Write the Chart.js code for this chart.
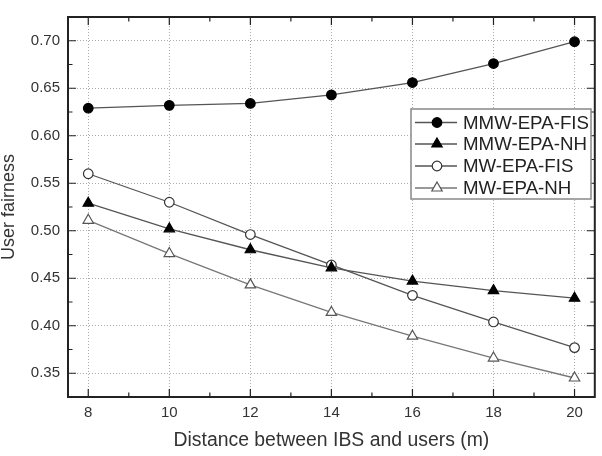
<!DOCTYPE html>
<html><head><meta charset="utf-8">
<script src="https://cdn.jsdelivr.net/npm/chart.js@4.4.1/dist/chart.umd.min.js"></script>
<style>html,body{margin:0;padding:0;background:#fff}</style>
</head><body>
<canvas id="c" width="602" height="456" style="width:602px;height:456px;display:block"></canvas>
<script>
// ---- data ----
const distances = [8, 10, 12, 14, 16, 18, 20];
const seriesNames = ["MMW-EPA-FIS", "MMW-EPA-NH", "MW-EPA-FIS", "MW-EPA-NH"];
const mmwEpaFis = [0.629, 0.632, 0.634, 0.643, 0.656, 0.676, 0.699];
const mmwEpaNh  = [0.529, 0.502, 0.480, 0.461, 0.447, 0.437, 0.429];
const mwEpaFis  = [0.560, 0.530, 0.496, 0.464, 0.432, 0.404, 0.377];
const mwEpaNh   = [0.511, 0.476, 0.443, 0.414, 0.389, 0.366, 0.345];
const xTicks = [8, 10, 12, 14, 16, 18, 20];
const xMinorTicks = [9, 11, 13, 15, 17, 19];
const yTicks = [0.35, 0.40, 0.45, 0.50, 0.55, 0.60, 0.65, 0.70];
const yMinorTicks = [0.375, 0.425, 0.475, 0.525, 0.575, 0.625, 0.675];
const xTitle = "Distance between IBS and users (m)";
const yTitle = "User fairness";

const FONT = "'Liberation Sans', Arial, Helvetica, sans-serif";
const toXY = (ys) => ys.map((v, i) => ({x: distances[i], y: v}));

const styles = [
  {line: '#555', fill: '#000', border: '#000', shape: 'circle', r: 4.8},
  {line: '#555', fill: '#000', border: '#000', shape: 'triangle', r: 6},
  {line: '#555', fill: '#fff', border: '#333', shape: 'circle', r: 4.8},
  {line: '#777', fill: '#fff', border: '#555', shape: 'triangle', r: 6}
];
const seriesData = [mmwEpaFis, mmwEpaNh, mwEpaFis, mwEpaNh];

const datasets = seriesData.map((d, i) => ({
  label: seriesNames[i],
  data: toXY(d),
  borderColor: styles[i].line,
  borderWidth: 1.3,
  pointStyle: styles[i].shape,
  pointRadius: styles[i].r,
  pointBackgroundColor: styles[i].fill,
  pointBorderColor: styles[i].border,
  pointBorderWidth: 1.2,
  tension: 0,
  fill: false
}));

function drawMarker(ctx, shape, x, y, r) {
  ctx.beginPath();
  if (shape === 'circle') {
    ctx.arc(x, y, r, 0, Math.PI * 2);
  } else {
    let rad = 0;
    const step = Math.PI * 2 / 3;
    ctx.moveTo(x + Math.sin(rad) * r, y - Math.cos(rad) * r);
    rad += step; ctx.lineTo(x + Math.sin(rad) * r, y - Math.cos(rad) * r);
    rad += step; ctx.lineTo(x + Math.sin(rad) * r, y - Math.cos(rad) * r);
    ctx.closePath();
  }
}

const framePlugin = {
  id: 'frame',
  afterDatasetsDraw(chart) {
    const {ctx, chartArea: a, scales} = chart;
    ctx.save();
    ctx.strokeStyle = '#222';
    ctx.lineWidth = 1.2;
    ctx.beginPath();
    const xs = scales.x, ys = scales.y;
    const tick = (px, len, vertical) => {
      if (vertical) {
        ctx.moveTo(px, a.bottom); ctx.lineTo(px, a.bottom - len);
        ctx.moveTo(px, a.top); ctx.lineTo(px, a.top + len);
      } else {
        ctx.moveTo(a.left, px); ctx.lineTo(a.left + len, px);
        ctx.moveTo(a.right, px); ctx.lineTo(a.right - len, px);
      }
    };
    xTicks.forEach(v => tick(xs.getPixelForValue(v), 8, true));
    xMinorTicks.forEach(v => tick(xs.getPixelForValue(v), 4.5, true));
    yTicks.forEach(v => tick(ys.getPixelForValue(v), 8, false));
    yMinorTicks.forEach(v => tick(ys.getPixelForValue(v), 4.5, false));
    ctx.stroke();
    ctx.lineWidth = 2;
    ctx.strokeRect(a.left, a.top, a.right - a.left, a.bottom - a.top);

    // legend box
    const bx = 411, by = 109, bw = 180, bh = 90;
    ctx.fillStyle = '#fff';
    ctx.fillRect(bx, by, bw, bh);
    ctx.strokeStyle = '#888';
    ctx.lineWidth = 1.5;
    ctx.strokeRect(bx, by, bw, bh);
    const rows = [122.5, 144, 166, 188];
    ctx.font = '18.7px ' + FONT;
    ctx.textBaseline = 'middle';
    ctx.textAlign = 'left';
    seriesNames.forEach((name, i) => {
      const y = rows[i], s = styles[i];
      ctx.strokeStyle = s.line;
      ctx.lineWidth = 1.3;
      ctx.beginPath(); ctx.moveTo(415, y); ctx.lineTo(457, y); ctx.stroke();
      drawMarker(ctx, s.shape, 437, y, s.r);
      ctx.fillStyle = s.fill; ctx.fill();
      ctx.strokeStyle = s.border; ctx.lineWidth = 1.2; ctx.stroke();
      ctx.fillStyle = '#222';
      ctx.fillText(name, 463, y + 1);
    });
    ctx.restore();
  }
};

new Chart(document.getElementById('c'), {
  type: 'line',
  data: {datasets},
  options: {
    responsive: false,
    animation: false,
    devicePixelRatio: 1,
    layout: {padding: {left: 0, top: 11, right: 4, bottom: 0}},
    plugins: {legend: {display: false}, tooltip: {enabled: false}},
    scales: {
      x: {
        type: 'linear', min: 7.5, max: 20.5,
        afterBuildTicks: s => { s.ticks = xTicks.map(v => ({value: v})); },
        afterFit: s => { s.height = 59; },
        grid: {color: '#aaa', lineWidth: 1, drawTicks: false},
        border: {display: false, dash: [1, 2]},
        ticks: {color: '#333', padding: 7, font: {family: FONT, size: 15}, callback: v => String(v)},
        title: {display: true, text: xTitle, color: '#333', font: {family: FONT, size: 19.4, lineHeight: 1}, padding: {top: 0, bottom: 5.5}}
      },
      y: {
        type: 'linear', min: 0.325, max: 0.725,
        afterBuildTicks: s => { s.ticks = yTicks.map(v => ({value: v})); },
        afterFit: s => { s.width = 68; },
        grid: {color: '#aaa', lineWidth: 1, drawTicks: false},
        border: {display: false, dash: [1, 2]},
        ticks: {color: '#333', padding: 8, font: {family: FONT, size: 15}, callback: v => v.toFixed(2)},
        title: {display: true, text: yTitle, color: '#333', font: {family: FONT, size: 18, lineHeight: 1}, padding: {top: 0.5, bottom: 0}}
      }
    }
  },
  plugins: [framePlugin]
});
</script>
</body></html>
